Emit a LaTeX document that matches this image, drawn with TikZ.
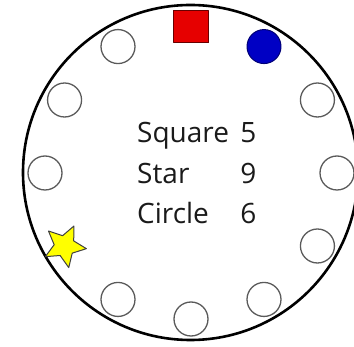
\documentclass[tikz,border=0pt]{standalone}
\usepackage{fontspec}
\setmainfont{Open Sans}
\usepackage{tikz}
\usetikzlibrary{shapes.geometric}
\definecolor{rgring}{HTML}{000000}
\definecolor{rgslot}{HTML}{5A5A5A}
\definecolor{rgred}{HTML}{E60000}
\definecolor{rgblue}{HTML}{0000C4}
\definecolor{rgyellow}{HTML}{FFFF00}
\definecolor{rgtext}{HTML}{1A1A1A}

\begin{document}
\begin{tikzpicture}[x=1pt, y=-1pt, line join=round,
                    font=\fontsize{28}{34}\selectfont,
                    slot/.style={circle, draw=rgslot, line width=1.3pt,
                                 minimum size=34pt, inner sep=0pt},
                    tally/.style={text=rgtext, inner sep=0pt}]
  \useasboundingbox (0,0) rectangle (354,347);
  % outer ring
  \draw[rgring, line width=2.6pt] (190.5,172.5) circle (167.5);
  % (1) twelve places round the ring, empty ones first
  \begin{scope}[shift={(191,173)}]
    \foreach \a in {0,30,120,150,180,240,270,300,330} {
      \node[slot] (slot-\a) at (-\a:146) {};
    }
    % the three filled places
    \node[rectangle, fill=rgred, draw=rgred!45!black, line width=1pt,
          minimum width=35pt, minimum height=32pt, inner sep=0pt] (sq) at (-90:146) {};
    \node[circle, fill=rgblue, draw=rgblue!60!black, line width=1pt,
          minimum size=34pt, inner sep=0pt] (dot) at (-60:146) {};
    \node[star, star points=5, star point ratio=2.1, fill=rgyellow,
          draw=black!75, line width=1pt, minimum size=44pt, inner sep=0pt,
          rotate=-25] (st) at (-210:146) {};
  \end{scope}
  % (2) the counts in the middle
  \node[tally, anchor=base west] (lbl-sq) at (137,143) {Square};
  \node[tally, anchor=base west] (lbl-st) at (137,183.5) {Star};
  \node[tally, anchor=base west] (lbl-ci) at (137,224) {Circle};
  \node[tally, anchor=base] (num-sq) at (248.5,143) {5};
  \node[tally, anchor=base] (num-st) at (248.5,183.5) {9};
  \node[tally, anchor=base] (num-ci) at (248.5,224) {6};
\end{tikzpicture}
\end{document}
